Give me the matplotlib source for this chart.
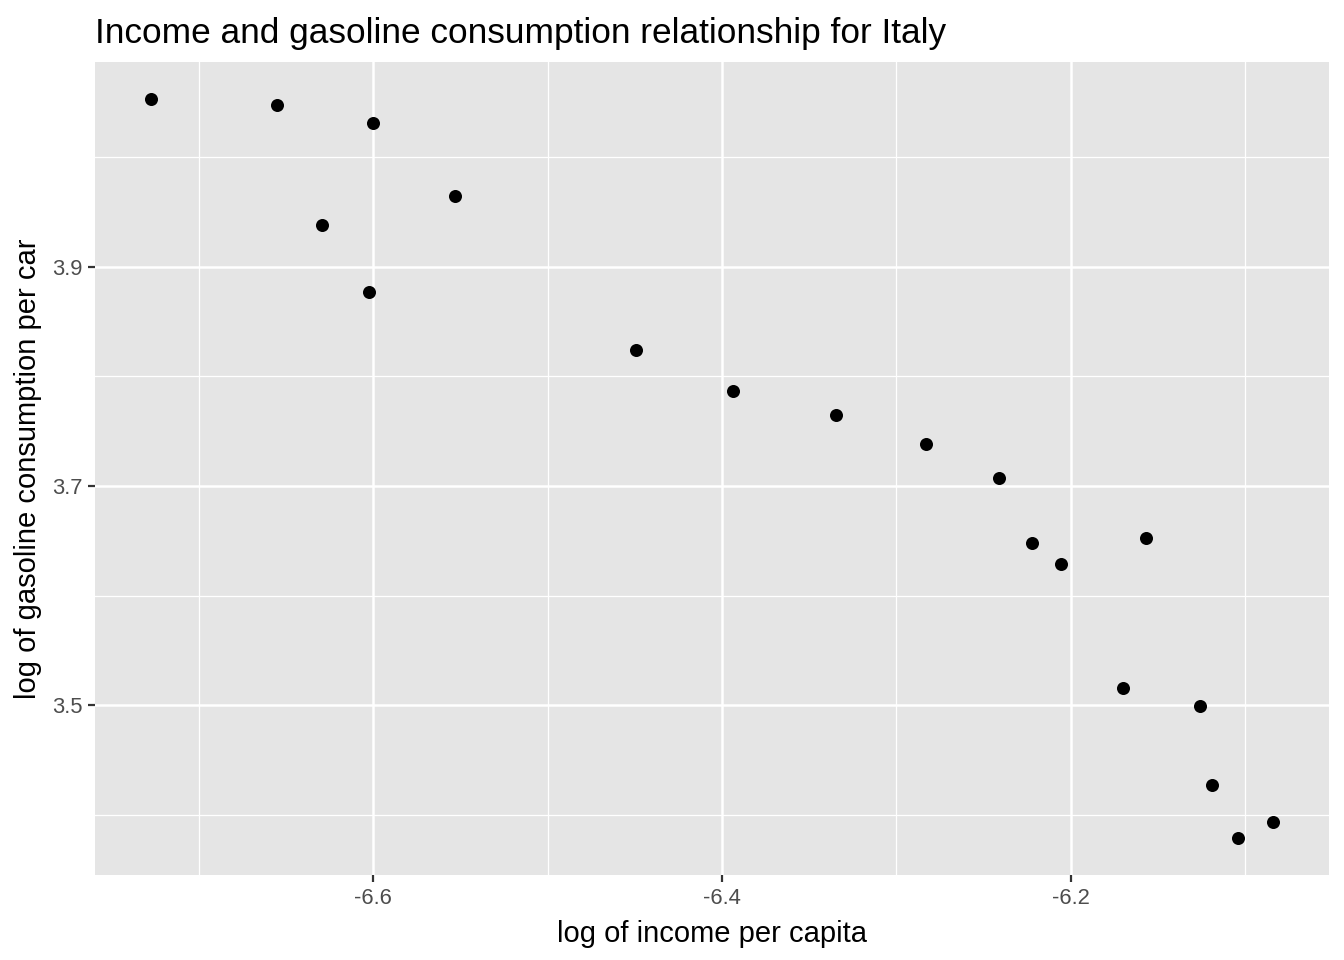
# scatter: renda x consumo de gasolina (Italia), estilo ggplot
import numpy as np
import matplotlib
matplotlib.use('Agg')
import matplotlib.pyplot as plt

# dados
log_income = [-6.7274, -6.6551, -6.6000, -6.5529, -6.6293, -6.6023, -6.4496,
              -6.3937, -6.3346, -6.2829, -6.2410, -6.2224, -6.2057, -6.1570,
              -6.1702, -6.1260, -6.1191, -6.1042, -6.0841]
log_gas = [4.0527, 4.0473, 4.0309, 3.9645, 3.9382, 3.8764, 3.8236,
           3.7864, 3.7645, 3.7382, 3.7073, 3.6482, 3.6291, 3.6527,
           3.5155, 3.4991, 3.4273, 3.3791, 3.3936]
x_ticks = [-6.6, -6.4, -6.2]
y_ticks = [3.5, 3.7, 3.9]
x_minor = [-6.7, -6.5, -6.3, -6.1]
y_minor = [3.4, 3.6, 3.8, 4.0]

plt.rcParams['font.family'] = ['Liberation Sans', 'DejaVu Sans']

fig = plt.figure(figsize=(13.44, 9.6), dpi=100)
ax = fig.add_axes([95 / 1344, 85 / 960, 1234 / 1344, 813 / 960])
ax.set_facecolor('#E5E5E5')

ax.scatter(log_income, log_gas, s=88, color='black', zorder=3, linewidths=0)

# expansao de 5% como no ggplot
def expand(v):
    lo, hi = min(v), max(v)
    d = (hi - lo) * 0.05
    return lo - d, hi + d

ax.set_xlim(*expand(log_income))
ax.set_ylim(*expand(log_gas))

ax.set_xticks(x_ticks)
ax.set_xticklabels([str(t) for t in x_ticks])
ax.set_yticks(y_ticks)
ax.set_yticklabels([str(t) for t in y_ticks])
ax.set_xticks(x_minor, minor=True)
ax.set_yticks(y_minor, minor=True)

ax.grid(True, which='major', color='white', linewidth=1.8, zorder=1)
ax.grid(True, which='minor', color='white', linewidth=0.9, zorder=1)
ax.set_axisbelow(True)
for s in ax.spines.values():
    s.set_visible(False)

ax.tick_params(which='major', length=5, width=1.6, color='#333333',
               labelsize=15.8, labelcolor='#4D4D4D', pad=4)
ax.tick_params(which='minor', length=0)

ax.set_xlabel('log of income per capita', fontsize=21, color='black', labelpad=8)
ax.set_ylabel('log of gasoline consumption per car', fontsize=21, color='black', labelpad=7)
ax.set_title('Income and gasoline consumption relationship for Italy',
             fontsize=25.4, loc='left', pad=14)

plt.savefig('out.png', dpi=100)
